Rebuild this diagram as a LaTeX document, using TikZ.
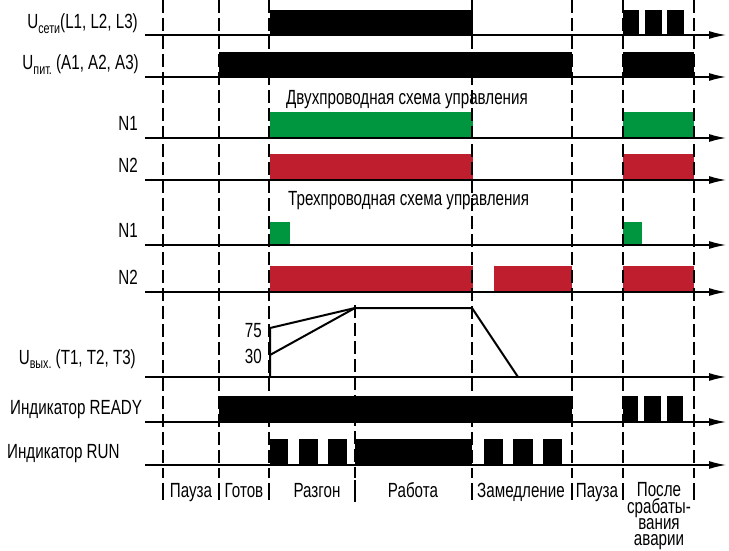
\documentclass[tikz,border=0pt]{standalone}
\usepackage{fontspec}
\setmainfont{Liberation Sans}[FakeStretch=0.74]
\usetikzlibrary{arrows.meta}
\definecolor{dgreen}{RGB}{0,150,64}
\definecolor{dred}{RGB}{190,30,45}
\newcommand{\dfont}{\fontsize{20.5}{16.3}\selectfont}
\newcommand{\subf}[1]{\raisebox{-4.5pt}{\fontsize{14.5}{14.5}\selectfont #1}}
\begin{document}
\begin{tikzpicture}[x=1pt,y=-1pt,
  axis/.style={line width=1.3pt,-{Latex[length=17pt,width=8pt]}},
  vdash/.style={line width=1.3pt,dash pattern=on 13pt off 5pt},
  sepline/.style={line width=1.3pt},
  ramp/.style={line width=2pt,line join=miter},
  lbl/.style={inner sep=0pt,font=\dfont},
  lblR/.style={lbl,anchor=base east},
  lblL/.style={lbl,anchor=base west},
  phase/.style={lbl,anchor=base}]
\useasboundingbox (0,0) rectangle (729,551);

% ---- bars ----
% U_seti
\fill (270,10) rectangle (473,35);
\foreach \a/\b in {623/639,645/662,667/684} \fill (\a,10) rectangle (\b,35);
% U_pit
\fill (219,52) rectangle (572,77);
\fill (623,52) rectangle (694,77);
% two-wire
\fill[dgreen] (270,112) rectangle (473,138);
\fill[dgreen] (623,112) rectangle (694,138);
\fill[dred] (270,154) rectangle (473,180);
\fill[dred] (623,154) rectangle (694,180);
% three-wire
\fill[dgreen] (270,222) rectangle (290,245);
\fill[dgreen] (623,222) rectangle (642,245);
\fill[dred] (270,266) rectangle (473,292);
\fill[dred] (494,266) rectangle (572,292);
\fill[dred] (623,266) rectangle (694,292);
% READY
\fill (219,396) rectangle (572,422);
\foreach \a/\b in {623/638,644/661,667/683} \fill (\a,396) rectangle (\b,422);
% RUN
\foreach \a/\b in {270/288,299/318,328/347,484/503,513/533,543/562} \fill (\a,439) rectangle (\b,465);
\fill (355,439) rectangle (472,465);

% ---- ramp ----
\draw[ramp] (270,377) -- (270,328) -- (355,308);
\draw[ramp] (270,355) -- (355,308) -- (472,308) -- (518,377);
\draw[line width=2.6pt] (270,377) -- (270,328);

% ---- axes ----
\foreach \y in {35,77,138,180,245,292,377,422,465}
  \draw[axis] (145,\y) -- (726,\y);

% ---- dashed phase lines ----
\foreach \x in {163,219,269,472,572,623,694}
  \draw[vdash] (\x,0) -- (\x,478);
\draw[vdash] (355,305) -- (355,478);
\foreach \x in {163,219,269,472,572,623,694}
  \draw[sepline] (\x,483) -- (\x,500);
\draw[sepline] (355,480) -- (355,502);

% ---- left labels ----
\node[lblR] (lseti) at (138,29) {U\subf{сети}(L1, L2, L3)};
\node[lblR] (lpit) at (139,70) {U\subf{пит.} (A1, A2, A3)};
\node[lblR] (ln1a) at (138,130) {N1};
\node[lblR] (ln2a) at (138,172) {N2};
\node[lblR] (ln1b) at (138,237) {N1};
\node[lblR] (ln2b) at (138,284) {N2};
\node[lblR] (lvyh) at (136,364) {U\subf{вых.} (T1, T2, T3)};
\node[lblL] (lready) at (10,414) {Индикатор READY};
\node[lblL] (lrun) at (7,458) {Индикатор RUN};
\node[lblL] (ltwo) at (286,105) {Двухпроводная схема управления};
\node[lblL] (lthree) at (288,205) {Трехпроводная схема управления};
\node[lblR] (l75) at (262,337) {75};
\node[lblR] (l30) at (262,363) {30};

% ---- phase labels ----
\node[phase] (p1) at (191,497) {Пауза};
\node[phase] (p2) at (244,497) {Готов};
\node[phase] (p3) at (317,497) {Разгон};
\node[phase] (p4) at (413,497) {Работа};
\node[phase] (p5) at (521,497) {Замедление};
\node[phase] (p6) at (597,497) {Пауза};
\node[lbl,align=center,anchor=north] (p7) at (659,482.5) {После\\срабаты-\\вания\\аварии};
\end{tikzpicture}
\end{document}
